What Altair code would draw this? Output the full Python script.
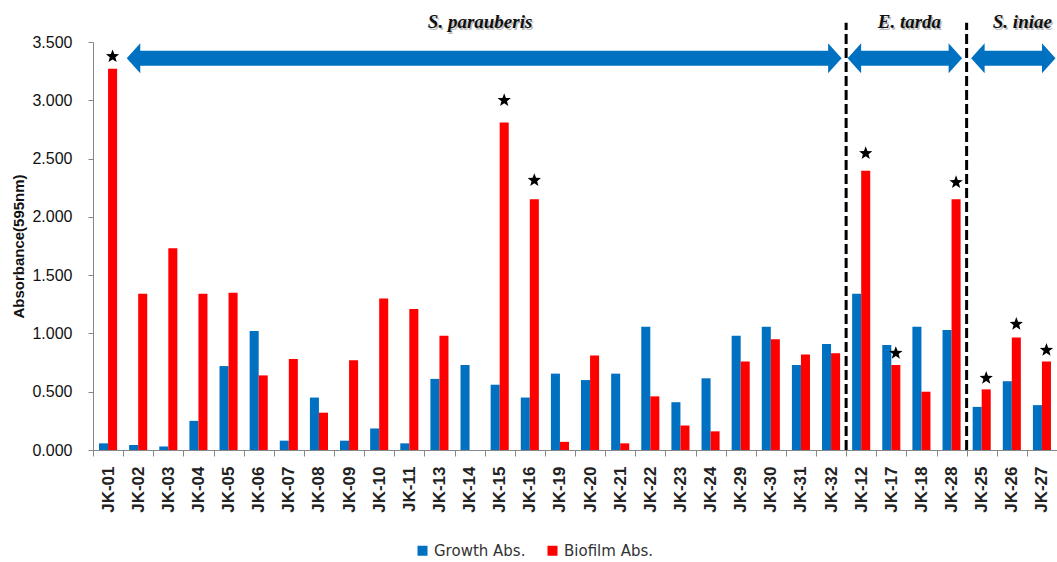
import numpy as np
import pandas as pd
import altair as alt

# Isolates, in plotted order (grouped by species)
strains = ["JK-01", "JK-02", "JK-03", "JK-04", "JK-05", "JK-06", "JK-07", "JK-08",
           "JK-09", "JK-10", "JK-11", "JK-13", "JK-14", "JK-15", "JK-16", "JK-19",
           "JK-20", "JK-21", "JK-22", "JK-23", "JK-24", "JK-29", "JK-30", "JK-31",
           "JK-32", "JK-12", "JK-17", "JK-18", "JK-28", "JK-25", "JK-26", "JK-27"]

growth = [0.057, 0.043, 0.030, 0.250, 0.720, 1.020, 0.080, 0.450,
          0.080, 0.185, 0.057, 0.610, 0.730, 0.560, 0.450, 0.655,
          0.600, 0.655, 1.057, 0.410, 0.615, 0.980, 1.057, 0.730,
          0.910, 1.340, 0.900, 1.057, 1.030, 0.370, 0.590, 0.385]

biofilm = [3.270, 1.340, 1.730, 1.340, 1.350, 0.640, 0.780, 0.320,
           0.770, 1.300, 1.210, 0.980, 0.000, 2.810, 2.150, 0.070,
           0.810, 0.057, 0.460, 0.210, 0.160, 0.760, 0.950, 0.820,
           0.830, 2.395, 0.730, 0.500, 2.150, 0.520, 0.965, 0.760]

series_names = ["Growth Abs.", "Biofilm Abs."]
series_colors = ["#0070C0", "#FF0000"]

# Strong biofilm formers, marked with a star
starred = ["JK-01", "JK-15", "JK-16", "JK-12", "JK-17", "JK-28", "JK-25", "JK-26", "JK-27"]
star_level = [3.376, 3.000, 2.314, 2.545, 0.831, 2.296, 0.617, 1.080, 0.857]

# Species groups
species = ["S. parauberis", "E. tarda", "S. iniae"]
species_counts = [25, 4, 3]
arrow_from = [1.12, 25.05, 29.15]
arrow_to = [24.85, 28.85, 31.95]
label_pos = [12.85, 27.1, 30.85]
arrow_level = 3.36
label_level = 3.67
divider_top = 3.665

y_ticks = [0, 0.5, 1.0, 1.5, 2.0, 2.5, 3.0, 3.5]
y_title = "Absorbance(595nm)"
axis_grey = "#868686"

W, H = 964, 408

bars_df = pd.DataFrame({
    "strain": strains * 2,
    "series": [series_names[0]] * len(strains) + [series_names[1]] * len(strains),
    "value": growth + biofilm,
})
stars_df = pd.DataFrame({"strain": starred, "series": series_names[1], "value": star_level})

edges = np.cumsum([0] + species_counts)
div_df = pd.DataFrame({"pos": edges[1:-1].astype(float), "y0": 0.0, "y1": divider_top})
arrow_df = pd.DataFrame({
    "species": species,
    "start": arrow_from,
    "end": arrow_to,
    "shaft_start": [a + 0.35 for a in arrow_from],
    "shaft_end": [b - 0.35 for b in arrow_to],
    "mid": label_pos,
    "y": arrow_level,
    "ly": label_level,
})

x_scale = alt.Scale(domain=strains, paddingInner=0, paddingOuter=0)
off_scale = alt.Scale(domain=series_names, paddingInner=0, paddingOuter=0.667)
y_scale = alt.Scale(domain=[0, 3.5], nice=False, zero=True)

x_enc = alt.X(
    "strain:N", scale=x_scale, title=None,
    axis=alt.Axis(labelAngle=270, tickBand="extent", tickSize=6, tickColor=axis_grey,
                  domainColor=axis_grey, labelPadding=10, labelFontSize=17,
                  labelFont="Liberation Sans", labelFontWeight="bold", labelColor="#222"),
)
y_axis = alt.Axis(values=y_ticks, format=".3f", grid=False, tickSize=5, tickColor=axis_grey,
                  domainColor=axis_grey, labelPadding=16, labelFontSize=16,
                  labelFont="Liberation Sans", labelColor="#111",
                  titleFont="Liberation Sans", titleFontSize=15, titleFontWeight="bold",
                  titleColor="#111", titleAngle=270, titleX=-75, titleY=H / 2,
                  titleAlign="center", titleBaseline="middle")

bars = alt.Chart(bars_df).mark_bar().encode(
    x=x_enc,
    xOffset=alt.XOffset("series:N", scale=off_scale),
    y=alt.Y("value:Q", scale=y_scale, axis=y_axis, title=y_title),
    color=alt.Color(
        "series:N",
        scale=alt.Scale(domain=series_names, range=series_colors),
        legend=alt.Legend(title=None, orient="none", legendX=322, legendY=501,
                          direction="horizontal", symbolType="square", symbolSize=100,
                          symbolStrokeWidth=0, labelFontSize=15, labelFont="DejaVu Sans",
                          labelColor="#333", columnPadding=19, labelOffset=4, padding=0),
    ),
)

# Five-pointed star symbol
pts = []
for k in range(10):
    r = 1.0 if k % 2 == 0 else 0.42
    a = np.deg2rad(-90 + 36 * k)
    pts.append(f"{r * np.cos(a):.3f},{r * np.sin(a):.3f}")
star_path = "M" + "L".join(pts) + "Z"

stars = alt.Chart(stars_df).mark_point(
    shape=star_path, filled=True, color="black", opacity=1, size=196
).encode(
    x=alt.X("strain:N", scale=x_scale),
    xOffset=alt.XOffset("series:N", scale=off_scale),
    y=alt.Y("value:Q", scale=y_scale, title=y_title),
)

main = alt.layer(bars, stars)

pos_x = lambda f: alt.X(f, scale=alt.Scale(domain=[0, len(strains)], nice=False, zero=False), axis=None)

dividers = alt.Chart(div_df).mark_rule(color="black", strokeWidth=3, strokeDash=[10, 4]).encode(
    x=pos_x("pos:Q"),
    y=alt.Y("y0:Q", scale=y_scale, title=y_title),
    y2="y1:Q",
)

arrow_blue = "#0070C0"
shafts = alt.Chart(arrow_df).mark_rule(color=arrow_blue, strokeWidth=15).encode(
    x=pos_x("shaft_start:Q"),
    x2="shaft_end:Q",
    y=alt.Y("y:Q", scale=y_scale, title=y_title),
)
heads_left = alt.Chart(arrow_df).mark_point(
    shape="M0,0L0.9,-1L0.9,1Z", filled=True, color=arrow_blue, opacity=1, size=900
).encode(x=pos_x("start:Q"), y=alt.Y("y:Q", scale=y_scale, title=y_title))
heads_right = alt.Chart(arrow_df).mark_point(
    shape="M0,0L-0.9,-1L-0.9,1Z", filled=True, color=arrow_blue, opacity=1, size=900
).encode(x=pos_x("end:Q"), y=alt.Y("y:Q", scale=y_scale, title=y_title))

label_style = dict(font="Liberation Serif", fontStyle="italic", fontWeight="bold",
                   fontSize=19, align="center", baseline="middle")
label_shadow = alt.Chart(arrow_df).mark_text(color="#000", opacity=0.25, dx=1.5, dy=1.8,
                                             **label_style).encode(
    x=pos_x("mid:Q"), y=alt.Y("ly:Q", scale=y_scale, title=y_title), text="species:N")
labels = alt.Chart(arrow_df).mark_text(color="#111", **label_style).encode(
    x=pos_x("mid:Q"), y=alt.Y("ly:Q", scale=y_scale, title=y_title), text="species:N")

annotations = alt.layer(dividers, shafts, heads_left, heads_right, label_shadow, labels)

chart = alt.layer(main, annotations).resolve_scale(x="independent").properties(
    width=W, height=H,
    autosize=alt.AutoSizeParams(type="none"),
    padding={"left": 93, "top": 42, "right": 0, "bottom": 112},
    background="white",
).configure_view(stroke=None)

chart.save("out.html", embed_options={"renderer": "svg", "actions": False})
